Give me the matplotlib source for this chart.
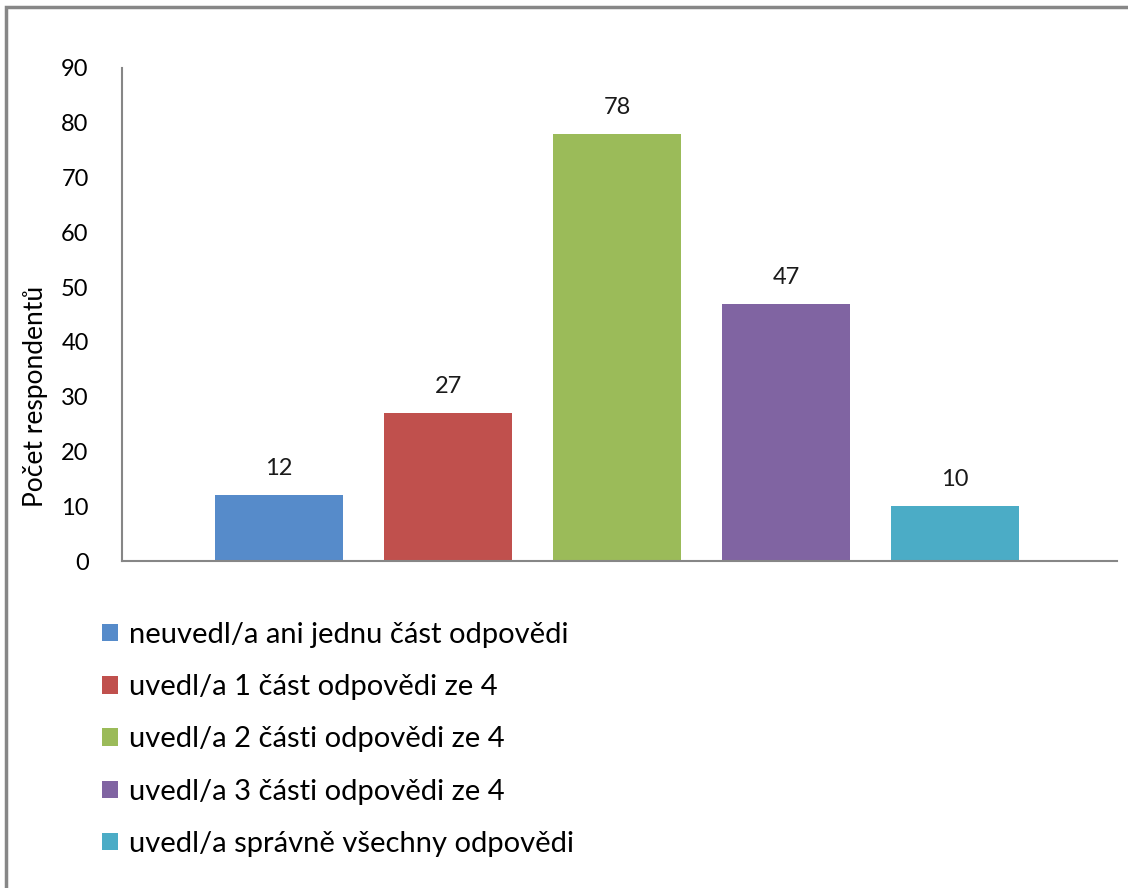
import matplotlib
matplotlib.use("Agg")
import matplotlib.pyplot as plt
from matplotlib.patches import Patch, Rectangle

categories = [
    "neuvedl/a ani jednu část odpovědi",
    "uvedl/a 1 část odpovědi ze 4",
    "uvedl/a 2 části odpovědi ze 4",
    "uvedl/a 3 části odpovědi ze 4",
    "uvedl/a správně všechny odpovědi",
]
counts = [12, 27, 78, 47, 10]
colors = ["#568BCA", "#C0504D", "#9BBB59", "#8064A2", "#4BACC6"]
yticks = list(range(0, 91, 10))

plt.rcParams["font.family"] = ["Lato", "DejaVu Sans"]

fig = plt.figure(figsize=(11.28, 8.88), dpi=100)
ax = fig.add_axes([122 / 1128, 1 - 561 / 888, 995 / 1128, 493 / 888])

x = list(range(len(counts)))
ax.bar(x, counts, width=0.76, color=colors, zorder=2)
for xi, v in zip(x, counts):
    ax.text(xi, v + 4.8, str(v), ha="center", va="center", fontsize=17, color="#1a1a1a")

ax.set_xlim(-0.93, 4.96)
ax.set_ylim(0, 90)
ax.set_yticks(yticks)
ax.set_xticks([])
ax.tick_params(axis="y", length=0, pad=24, labelsize=17)
for side in ("top", "right"):
    ax.spines[side].set_visible(False)
for side in ("left", "bottom"):
    ax.spines[side].set_color("#868686")
    ax.spines[side].set_linewidth(1.5)

fig.text(36 / 1128, 1 - 396 / 888, "Počet respondentů", rotation=90,
         ha="center", va="center", fontsize=19)

handles = [Patch(facecolor=c) for c in colors]
fig.legend(handles, categories, loc="upper left", bbox_to_anchor=(102 / 1128, 1 - 622 / 888),
           frameon=False, fontsize=21, handlelength=0.55, handleheight=0.55,
           handletextpad=0.38, labelspacing=0.9, borderaxespad=0, borderpad=0)

# outer chart frame (only left and top edges inside the image)
fig.patches.append(Rectangle((6 / 1128, -0.1), 1.2, 1 - 7 / 888 + 0.1, transform=fig.transFigure,
                             fill=False, edgecolor="#878787", linewidth=2.5))

fig.savefig("out.png", dpi=100)
